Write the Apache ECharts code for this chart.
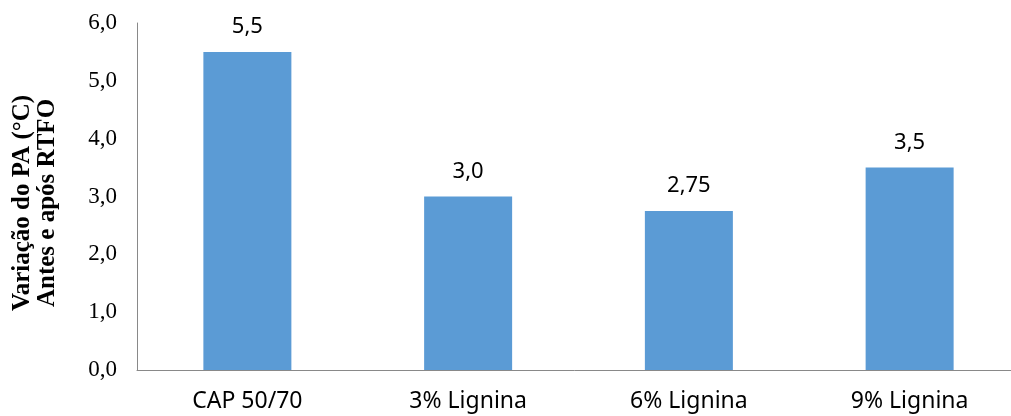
<!DOCTYPE html>
<html>
<head>
<meta charset="utf-8">
<script src="https://cdn.jsdelivr.net/npm/echarts@6/dist/echarts.min.js"></script>
<style>
  html, body { margin: 0; padding: 0; background: #ffffff; }
  #chart { width: 1011px; height: 416px; }
</style>
</head>
<body>
<div id="chart"></div>
<script>
// Variation of softening point before and after RTFO aging
const categories = ['CAP 50/70', '3% Lignina', '6% Lignina', '9% Lignina'];
const variacao = [5.5, 3.0, 2.75, 3.5];
const yTitleLines = ['Variação do PA (°C)', 'Antes e após RTFO'];

// Portuguese decimal comma, at least one decimal place
function fmt(v) {
  const s = (Math.round(v * 100) / 100).toString();
  const fixed = s.indexOf('.') === -1 ? Number(v).toFixed(1) : s;
  return fixed.replace('.', ',');
}

const chart = echarts.init(document.getElementById('chart'), null, { renderer: 'canvas' });

chart.setOption({
  backgroundColor: '#ffffff',
  animation: false,
  // plot area runs slightly past the right edge of the canvas
  grid: {
    left: 137, width: 883, top: 23, bottom: 46,
    containLabel: false,
    outerBoundsMode: 'none'
  },
  xAxis: {
    type: 'category',
    data: categories,
    axisLine: { show: true, lineStyle: { color: '#898989', width: 1 } },
    axisTick: { show: false },
    axisLabel: {
      margin: 20,
      color: '#000000',
      fontFamily: 'Noto Sans',
      fontSize: 23
    }
  },
  yAxis: {
    type: 'value',
    min: 0,
    max: 6,
    interval: 1,
    splitLine: { show: false },
    axisLine: { show: true, lineStyle: { color: '#898989', width: 1 } },
    axisTick: { show: false },
    axisLabel: {
      margin: 20,
      color: '#000000',
      fontFamily: 'Liberation Serif',
      fontSize: 23,
      formatter: v => Number(v).toFixed(1).replace('.', ',')
    }
  },
  graphic: [{
    type: 'text',
    x: 35,
    y: 203,
    rotation: Math.PI / 2,
    style: {
      text: yTitleLines.join('\n'),
      fontFamily: 'Liberation Serif',
      fontWeight: 'bold',
      fontSize: 25,
      lineHeight: 25,
      fill: '#000000',
      align: 'center',
      verticalAlign: 'middle'
    }
  }],
  series: [{
    type: 'bar',
    data: variacao,
    barWidth: 88,
    itemStyle: { color: '#5B9BD5' },
    label: {
      show: true,
      position: 'top',
      distance: 14,
      color: '#000000',
      fontFamily: 'Noto Sans',
      fontSize: 22,
      formatter: p => fmt(p.value)
    }
  }]
});
</script>
</body>
</html>
